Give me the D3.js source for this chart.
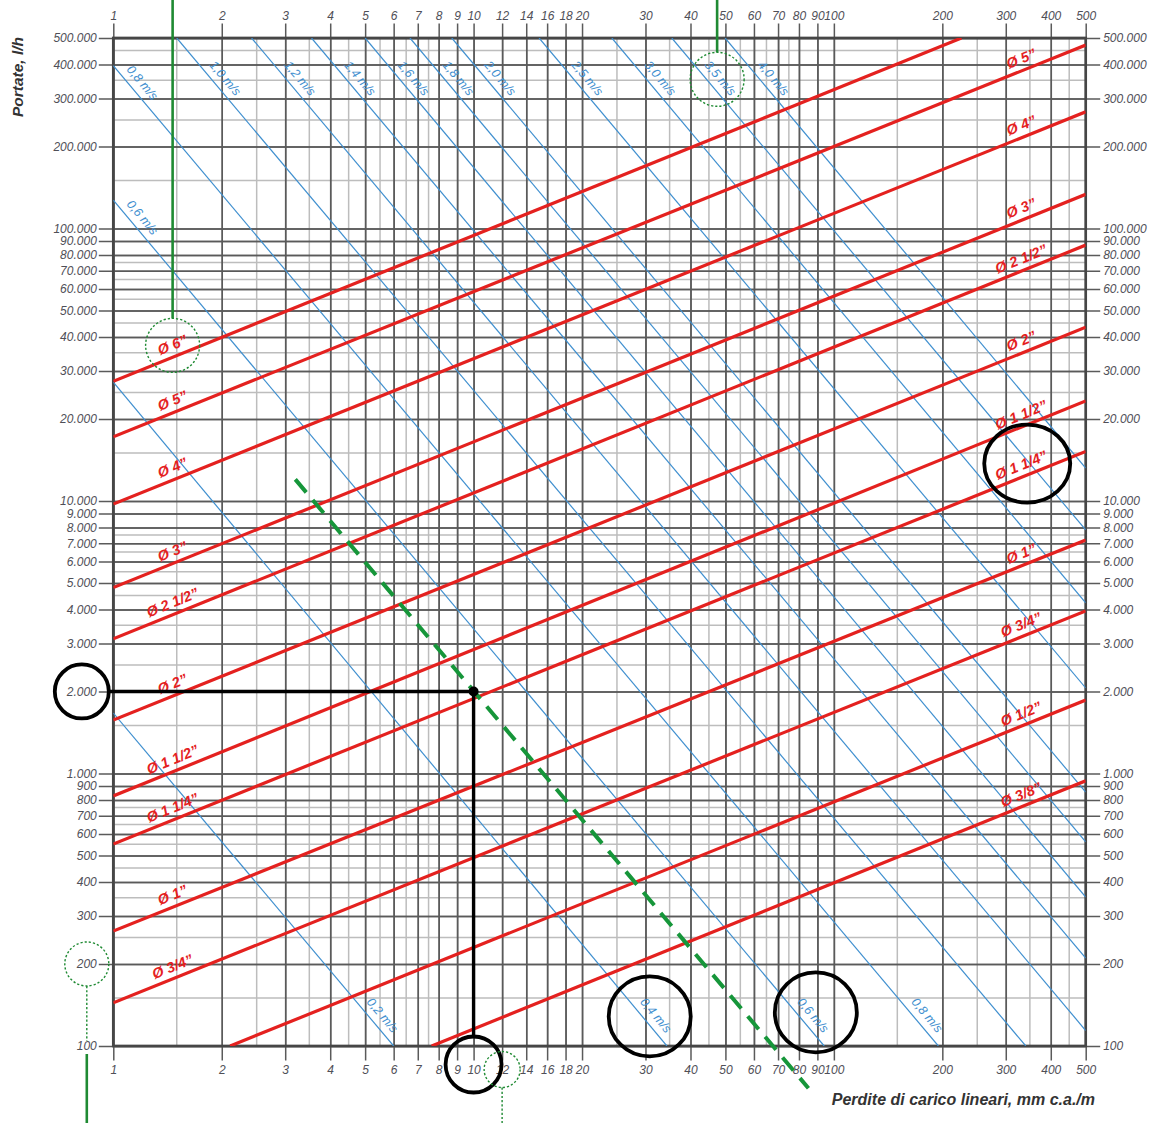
<!DOCTYPE html>
<html>
<head>
<meta charset="utf-8">
<script src="https://cdn.jsdelivr.net/npm/d3@7"></script>
<style>
  body { margin: 0; background: #fff; }
  svg { display: block; }
</style>
</head>
<body>
<svg id="chart" width="1150" height="1123"></svg>
<script>
// Linear head loss (mm w.c./m) against flow rate (l/h) for steel pipes, log-log nomogram

// ---- axes ----
const xTickValues = [1, 2, 3, 4, 5, 6, 7, 8, 9, 10, 12, 14, 16, 18, 20, 30, 40, 50, 60, 70, 80, 90, 100, 200, 300, 400, 500];
const xTickLabels = ["1", "2", "3", "4", "5", "6", "7", "8", "9", "10", "12", "14", "16", "18", "20", "30", "40", "50", "60", "70", "80", "90", "100", "200", "300", "400", "500"];
const xMinorValues = [1.5, 2.5, 3.5, 4.5, 5.5, 6.5, 7.5, 25, 35, 45, 55, 65, 75, 150, 250, 350, 450];

const yTickValues = [100, 200, 300, 400, 500, 600, 700, 800, 900,
  1000, 2000, 3000, 4000, 5000, 6000, 7000, 8000, 9000,
  10000, 20000, 30000, 40000, 50000, 60000, 70000, 80000, 90000,
  100000, 200000, 300000, 400000, 500000];
const yTickLabels = ["100", "200", "300", "400", "500", "600", "700", "800", "900",
  "1.000", "2.000", "3.000", "4.000", "5.000", "6.000", "7.000", "8.000", "9.000",
  "10.000", "20.000", "30.000", "40.000", "50.000", "60.000", "70.000", "80.000", "90.000",
  "100.000", "200.000", "300.000", "400.000", "500.000"];
const yMinorValues = [150, 250, 350, 450, 550, 650, 750,
  1500, 2500, 3500, 4500, 5500, 6500, 7500,
  15000, 25000, 35000, 45000, 55000, 65000, 75000,
  150000, 250000, 350000, 450000];

// ---- pipe diameters: [head loss, flow] where each line enters and leaves the grid ----
const pipeLabels = ["Ø 6”", "Ø 5”", "Ø 4”", "Ø 3”", "Ø 2 1/2”", "Ø 2”", "Ø 1 1/2”", "Ø 1 1/4”", "Ø 1”", "Ø 3/4”", "Ø 1/2”", "Ø 3/8”"];
const pipeStart = [[1, 27500], [1, 17200], [1, 9750], [1, 4810], [1, 3120], [1, 1570], [1, 827], [1, 551], [1, 264], [1, 144], [2.11, 100], [7.65, 100]];
const pipeEnd = [[226, 500000], [500, 471000], [500, 268000], [500, 133500], [500, 86900], [500, 43400], [500, 23300], [500, 15200], [500, 7190], [500, 3950], [500, 1860], [500, 940]];

// ---- water velocity lines ----
const velocityLabels = ["0,2 m/s", "0,4 m/s", "0,6 m/s", "0,8 m/s", "1,0 m/s", "1,2 m/s", "1,4 m/s", "1,6 m/s", "1,8 m/s", "2,0 m/s", "2,5 m/s", "3,0 m/s", "3,5 m/s", "4,0 m/s"];
const velocityStart = [[1, 1667], [1, 27300], [1, 127000], [1, 396000], [1.5, 500000], [2.42, 500000], [3.55, 500000], [5.0, 500000], [6.66, 500000], [8.7, 500000], [15.2, 500000], [24.2, 500000], [35.5, 500000], [49.9, 500000]];
const velocityEnd = [[6.0, 100], [34.4, 100], [94, 100], [195, 100], [341, 100], [500, 114], [500, 210], [500, 352], [500, 561], [500, 855], [500, 2060], [500, 4230], [500, 7830], [500, 13200]];
const velocityLabelTop = [false, false, true, true, true, true, true, true, true, true, true, true, true, true];
const velocityLabelBottom = [true, true, true, true, false, false, false, false, false, false, false, false, false, false];

// ---- worked example: 2.000 l/h at 10 mm c.a./m ----
const exampleFlow = 2000;
const exampleLoss = 10;
const exampleVelocityLine = [[3.2, 12000], [85, 70]];

// ---------------------------------------------------------------
const FONT = "'Liberation Sans', Arial, Helvetica, sans-serif";
const NARROW = "'Liberation Sans Narrow', 'Liberation Sans', Arial, sans-serif";
const RED = "#e4211f", BLUE = "#3f8fcf", GREEN = "#16963a", DARK_GREEN = "#1f8a33";

const X0 = 113.3, X1 = 1085.7, Y0 = 38, Y1 = 1046, TICK = 14.5;
const x = d3.scaleLog().domain([1, 500]).range([X0, X1]);
const y = d3.scaleLog().domain([100, 500000]).range([Y1, Y0]);

const svg = d3.select("#chart");

svg.append("defs").append("clipPath").attr("id", "plot-clip")
  .append("rect").attr("x", X0).attr("y", Y0).attr("width", X1 - X0).attr("height", Y1 - Y0);

// minor grid
const minor = svg.append("g").attr("stroke", "#bdbdbd").attr("stroke-width", 1.5);
minor.selectAll("line.mx").data(xMinorValues).join("line").attr("class", "mx")
  .attr("x1", d => x(d)).attr("x2", d => x(d)).attr("y1", Y0).attr("y2", Y1);
minor.selectAll("line.my").data(yMinorValues).join("line").attr("class", "my")
  .attr("y1", d => y(d)).attr("y2", d => y(d)).attr("x1", X0).attr("x2", X1);

// major grid drawn by the four axes (ticks run across the plot and stick out past the frame)
function styleAxis(g) {
  g.select(".domain").remove();
  g.attr("font-family", FONT).attr("font-size", 12);
  g.selectAll(".tick line").attr("stroke", "#5a5a5a").attr("stroke-width", 1.5);
  g.selectAll(".tick text").attr("fill", "#4f4f57").attr("font-style", "italic");
}
const spanX = X1 - X0 + TICK, spanY = Y1 - Y0 + TICK;
svg.append("g").attr("transform", `translate(${X0 - TICK},0)`)
  .call(d3.axisLeft(y).tickValues(yTickValues).tickFormat((d, i) => yTickLabels[i]).tickSize(-spanX).tickPadding(2))
  .call(styleAxis);
svg.append("g").attr("transform", `translate(${X1 + TICK},0)`)
  .call(d3.axisRight(y).tickValues(yTickValues).tickFormat((d, i) => yTickLabels[i]).tickSize(-spanX).tickPadding(3))
  .call(styleAxis);
svg.append("g").attr("transform", `translate(0,${Y0 - TICK})`)
  .call(d3.axisTop(x).tickValues(xTickValues).tickFormat((d, i) => xTickLabels[i]).tickSize(-spanY).tickPadding(4))
  .call(styleAxis);
svg.append("g").attr("transform", `translate(0,${Y1 + TICK})`)
  .call(d3.axisBottom(x).tickValues(xTickValues).tickFormat((d, i) => xTickLabels[i]).tickSize(-spanY).tickPadding(5))
  .call(styleAxis);

// frame
svg.append("rect").attr("x", X0).attr("y", Y0).attr("width", X1 - X0).attr("height", Y1 - Y0)
  .attr("fill", "none").attr("stroke", "#464646").attr("stroke-width", 2.7);

// helpers along a straight log-log segment
const px = p => [x(p[0]), y(p[1])];
function angleOf(s, e) {
  const a = px(s), b = px(e);
  return Math.atan2(b[1] - a[1], b[0] - a[0]);
}
function flowAtLoss(s, e, J) {
  const t = (Math.log10(J) - Math.log10(s[0])) / (Math.log10(e[0]) - Math.log10(s[0]));
  return Math.pow(10, Math.log10(s[1]) + t * (Math.log10(e[1]) - Math.log10(s[1])));
}
function lossAtFlow(s, e, Q) {
  const t = (Math.log10(Q) - Math.log10(s[1])) / (Math.log10(e[1]) - Math.log10(s[1]));
  return Math.pow(10, Math.log10(s[0]) + t * (Math.log10(e[0]) - Math.log10(s[0])));
}

const plot = svg.append("g").attr("clip-path", "url(#plot-clip)");

// velocity lines
plot.append("g").selectAll("line").data(velocityStart).join("line")
  .attr("x1", d => x(d[0])).attr("y1", d => y(d[1]))
  .attr("x2", (d, i) => x(velocityEnd[i][0])).attr("y2", (d, i) => y(velocityEnd[i][1]))
  .attr("stroke", BLUE).attr("stroke-width", 1.2);

// pipe lines
plot.append("g").selectAll("line").data(pipeStart).join("line")
  .attr("x1", d => x(d[0])).attr("y1", d => y(d[1]))
  .attr("x2", (d, i) => x(pipeEnd[i][0])).attr("y2", (d, i) => y(pipeEnd[i][1]))
  .attr("stroke", RED).attr("stroke-width", 3.2);

// ---- line labels ----
const LABEL_GAP = 11;          // distance from line to the centre of its label
const topLabelFlow = 335000, bottomLabelFlow = 122, edgeLabelLoss = 1.14;
const pipeLabelLossLeft = 1.5, pipeLabelLossRight = 340;

function placeLabel(s, e, J, gap) {
  const Q = flowAtLoss(s, e, J);
  const a = angleOf(s, e);
  const foot = [x(J), y(Q)];
  // normal pointing to the upper side of the line
  let nx = Math.sin(a), ny = -Math.cos(a);
  if (ny > 0) { nx = -nx; ny = -ny; }
  return { foot, angle: a * 180 / Math.PI, center: [foot[0] + nx * gap, foot[1] + ny * gap] };
}

const velLabelSpots = [];
velocityLabels.forEach((t, i) => {
  const s = velocityStart[i], e = velocityEnd[i];
  if (velocityLabelTop[i]) {
    const J = s[1] >= topLabelFlow ? Math.max(edgeLabelLoss, lossAtFlow(s, e, topLabelFlow)) : edgeLabelLoss;
    velLabelSpots.push({ text: t, i, where: "top", ...placeLabel(s, e, J, LABEL_GAP) });
  }
  if (velocityLabelBottom[i]) {
    const J = lossAtFlow(s, e, bottomLabelFlow);
    velLabelSpots.push({ text: t, i, where: "bottom", ...placeLabel(s, e, J, LABEL_GAP) });
  }
});

svg.append("g").selectAll("text").data(velLabelSpots).join("text")
  .attr("transform", d => `translate(${d.foot[0]},${d.foot[1]}) rotate(${d.angle})`)
  .attr("y", -7)
  .attr("text-anchor", "middle")
  .attr("font-family", FONT).attr("font-size", 12.5).attr("font-style", "italic")
  .attr("fill", BLUE)
  .text(d => d.text);

const pipeLabelSpots = [];
pipeLabels.forEach((t, i) => {
  const s = pipeStart[i], e = pipeEnd[i];
  if (s[0] === 1) pipeLabelSpots.push({ text: t, i, where: "left", ...placeLabel(s, e, pipeLabelLossLeft, LABEL_GAP) });
  if (e[0] === 500) pipeLabelSpots.push({ text: t, i, where: "right", ...placeLabel(s, e, pipeLabelLossRight, LABEL_GAP) });
});

svg.append("g").selectAll("text").data(pipeLabelSpots).join("text")
  .attr("transform", d => `translate(${d.foot[0]},${d.foot[1]}) rotate(${d.angle})`)
  .attr("y", -6.5)
  .attr("text-anchor", "middle")
  .attr("font-family", NARROW).attr("font-size", 14.5).attr("font-style", "italic").attr("font-weight", "bold")
  .attr("fill", RED)
  .text(d => d.text);

// ---- axis titles ----
svg.append("text")
  .attr("transform", "translate(23,77) rotate(-90)")
  .attr("text-anchor", "middle")
  .attr("font-family", FONT).attr("font-size", 15.5).attr("font-style", "italic").attr("font-weight", "bold")
  .attr("fill", "#333")
  .text("Portate, l/h");
svg.append("text")
  .attr("x", 1095).attr("y", 1105)
  .attr("text-anchor", "end")
  .attr("font-family", FONT).attr("font-size", 16).attr("font-style", "italic").attr("font-weight", "bold")
  .attr("fill", "#333")
  .text("Perdite di carico lineari, mm c.a./m");

// ---- worked example overlay ----
const ann = svg.append("g");
const findVel = (t, w) => velLabelSpots.find(d => d.text === t && d.where === w);
const findPipe = (t, w) => pipeLabelSpots.find(d => d.text === t && d.where === w);

// green dashed velocity line through the example point
ann.append("line")
  .attr("x1", x(exampleVelocityLine[0][0])).attr("y1", y(exampleVelocityLine[0][1]))
  .attr("x2", x(exampleVelocityLine[1][0])).attr("y2", y(exampleVelocityLine[1][1]))
  .attr("stroke", GREEN).attr("stroke-width", 4).attr("stroke-dasharray", "17,10");

// circle around the flow tick label and the loss tick label
const flowLabelC = [X0 - TICK - 2 - 15, y(exampleFlow)];
const lossLabelC = [x(exampleLoss), Y1 + TICK + 4];
const blackRing = (c, rx, ry) => ann.append("ellipse").attr("cx", c[0]).attr("cy", c[1]).attr("rx", rx).attr("ry", ry)
  .attr("fill", "none").attr("stroke", "#000").attr("stroke-width", 3.8);

ann.append("line")
  .attr("x1", flowLabelC[0] + 27).attr("y1", y(exampleFlow)).attr("x2", x(exampleLoss)).attr("y2", y(exampleFlow))
  .attr("stroke", "#000").attr("stroke-width", 3.4);
ann.append("line")
  .attr("x1", x(exampleLoss)).attr("y1", y(exampleFlow)).attr("x2", x(exampleLoss)).attr("y2", lossLabelC[1] - 28)
  .attr("stroke", "#000").attr("stroke-width", 3.4);
ann.append("circle").attr("cx", x(exampleLoss)).attr("cy", y(exampleFlow)).attr("r", 5).attr("fill", "#000");

blackRing(flowLabelC, 27, 27);
blackRing(lossLabelC, 28, 28);
const v04 = findVel("0,4 m/s", "bottom"), v06 = findVel("0,6 m/s", "bottom");
blackRing([v04.center[0] - 6, v04.center[1] + 1], 41, 40);
blackRing([v06.center[0] + 3, v06.center[1] - 3], 41, 40);
const p114 = findPipe("Ø 1 1/4”", "right");
blackRing([p114.center[0] + 6, p114.center[1] - 2], 43, 39);

// green dotted rings with leader lines
const greenRing = (c, r) => ann.append("circle").attr("cx", c[0]).attr("cy", c[1]).attr("r", r)
  .attr("fill", "none").attr("stroke", DARK_GREEN).attr("stroke-width", 1.4).attr("stroke-dasharray", "2.2,2");
const greenLeader = (xx, ya, yb, dotted) => ann.append("line")
  .attr("x1", xx).attr("x2", xx).attr("y1", ya).attr("y2", yb)
  .attr("stroke", DARK_GREEN).attr("stroke-width", dotted ? 1.4 : 2.6)
  .attr("stroke-dasharray", dotted ? "2.2,2" : null);

const p6 = findPipe("Ø 6”", "left");
greenRing(p6.center, 27);
greenLeader(p6.center[0], 0, p6.center[1] - 27, false);

const v35 = findVel("3,5 m/s", "top");
const c35 = [v35.center[0] - 3, v35.center[1] + 1];
greenRing(c35, 27);
greenLeader(c35[0], 0, c35[1] - 27, false);

const q200 = [X0 - TICK - 2 - 10, y(200)];
greenRing(q200, 22);
greenLeader(q200[0], q200[1] + 22, Y1 - 5, true);
greenLeader(q200[0], Y1 + 8, 1123, false);

const j12 = [x(12), Y1 + TICK + 9];
greenRing(j12, 18);
greenLeader(j12[0], j12[1] + 18, 1123, true);
</script>
</body>
</html>
